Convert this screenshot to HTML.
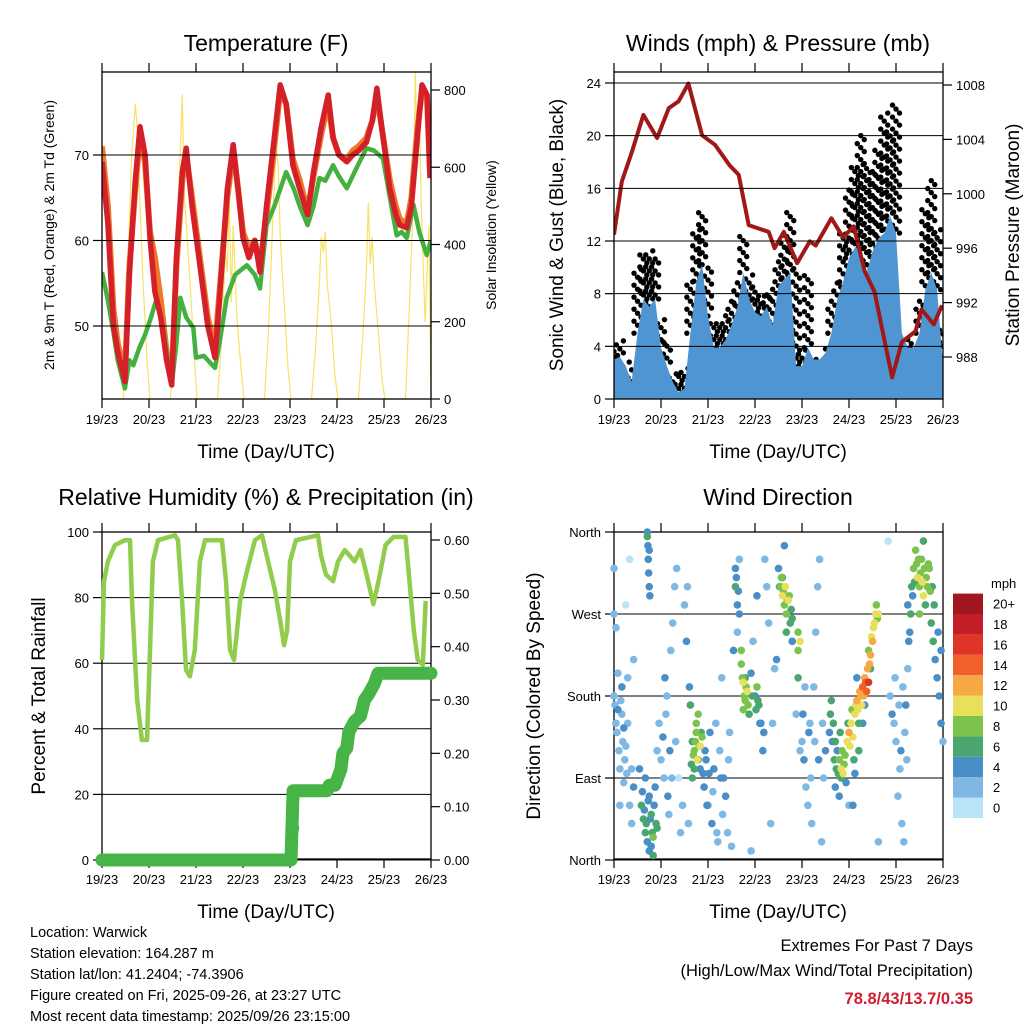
<!DOCTYPE html>
<html><head><meta charset="utf-8">
<style>
html,body{margin:0;padding:0;background:#fff;}
svg{display:block;font-family:"Liberation Sans",Arial,sans-serif;}
</style></head>
<body>
<svg id="fig" width="1024" height="1024" viewBox="0 0 1024 1024" xmlns="http://www.w3.org/2000/svg">
<text x="266" y="51" font-size="23" text-anchor="middle">Temperature (F)</text>
<text x="778" y="51" font-size="23" text-anchor="middle">Winds (mph) &amp; Pressure (mb)</text>
<text x="266" y="505" font-size="23" text-anchor="middle">Relative Humidity (%) &amp; Precipitation (in)</text>
<text x="778" y="505" font-size="23" text-anchor="middle">Wind Direction</text>
<text x="266" y="458" font-size="19" text-anchor="middle">Time (Day/UTC)</text>
<text x="778" y="458" font-size="19" text-anchor="middle">Time (Day/UTC)</text>
<text x="266" y="918" font-size="19" text-anchor="middle">Time (Day/UTC)</text>
<text x="778" y="918" font-size="19" text-anchor="middle">Time (Day/UTC)</text>
<text transform="translate(54,235) rotate(-90)" font-size="14" text-anchor="middle">2m &amp; 9m T (Red, Orange) &amp; 2m Td (Green)</text>
<text transform="translate(496,235) rotate(-90)" font-size="14" text-anchor="middle">Solar Insolation (Yellow)</text>
<text transform="translate(563,235) rotate(-90)" font-size="19" text-anchor="middle">Sonic Wind &amp; Gust (Blue, Black)</text>
<text transform="translate(1019,235) rotate(-90)" font-size="19" text-anchor="middle">Station Pressure (Maroon)</text>
<text transform="translate(45,696) rotate(-90)" font-size="19" text-anchor="middle">Percent &amp; Total Rainfall</text>
<text transform="translate(540,696) rotate(-90)" font-size="19" text-anchor="middle">Direction (Colored By Speed)</text>
<g font-size="14.5">
<text x="30" y="937">Location: Warwick</text>
<text x="30" y="958">Station elevation: 164.287 m</text>
<text x="30" y="979">Station lat/lon: 41.2404; -74.3906</text>
<text x="30" y="1000">Figure created on Fri, 2025-09-26, at 23:27 UTC</text>
<text x="30" y="1021">Most recent data timestamp: 2025/09/26 23:15:00</text>
</g>
<g font-size="16.5" text-anchor="end">
<text x="973" y="951">Extremes For Past 7 Days</text>
<text x="973" y="976">(High/Low/Max Wind/Total Precipitation)</text>
<text x="973" y="1004" fill="#d02030" font-weight="bold">78.8/43/13.7/0.35</text>
</g>
</svg>
<script>
// ---------- DATA ----------
const dayLabels = ["19/23","20/23","21/23","22/23","23/23","24/23","25/23","26/23"];
const tempHours = [0,3,5.8,8,11.7,14,17,19.4,22,24.5,27,30,33,35.6,38,41,43,46,50,54,57.7,60,64,67,69.5,72,75,78,80.7,84,88,91,94,97.5,101,105,108,112,115.5,118,121,125,128,131,135,138,140.4,143,147,150,152,155.6,158,161,163.4,166,167.5];
const tempValues = [69.2,62,50.1,47,43.5,56,67,73.3,70,60.3,54,51,46,43.1,58,68,70.8,64,57.1,50,46.3,53,66,71.2,66,60.3,58,60,56.3,64,72,78.2,76,68.8,66,63,68,73.3,77,72,70,69.2,70,70.5,71.5,74,77.8,73,66,63,61.8,61.5,64,72,78.2,77,67.3];
const orangeValues = [71,64,52,48,44.5,57,66,72.5,69,61,58,53,47,44,57,67,70,65,58,51,47.5,54,65,70.5,66,61,59,60,57,63,71,77.5,76,69.5,67,63.5,67.5,72.5,76,72,70,69.5,70.5,71,72,74,77,73,67,64,62.5,62,65,73,77.5,76.5,68];
const dewHours = [0,3,5.8,8,11.7,14,16,19,22,25,28,31,35.6,38,40,43,46.6,48,52,57.7,60,63.7,68,74,78,80.7,84,88,94,98,101,105,108,111,114,118,121,125,130,135,139,143.5,147,150.5,153,155.6,159,162,165.8,168];
const dewValues = [56.3,53,49.3,46,42.7,46,45.4,47.4,49,51,53.3,50,43.1,48,53.3,51,49.8,46.3,46.5,45.1,48,53.3,56,57.1,56,54.4,61.8,64,68,66,64,61.8,64,67.3,67,68.8,67.5,66.1,68.5,70.8,70.5,69.6,65,60.6,61,60.3,64.2,61,58.3,60];
const solarHours = [0,11,13,15,17,18,19,21,23,24.5,35,37,39,40,41,42,43,45,47,48.5,59,61,63,64,65,66,67,69,71,72.5,83,85,87,88,89,90,91,93,95,96.5,107,109,111,112,113,114,115,117,119,120.5,131,133,135,136,137,138,139,141,143,144.5,155,157,159,160,161,162,163,165,167,168];
const solarValues = [0,0,300,620,764,700,560,300,100,0,0,200,520,640,789,520,460,300,120,0,0,150,380,330,530,250,450,200,80,0,0,180,440,560,652,600,420,250,80,0,0,130,300,420,380,434,300,200,60,0,0,150,330,509,350,420,300,180,50,0,0,250,520,850,600,760,500,200,450,0];
const windHours = [0,3,6,9,12,15,18,21,24,27,30,33,36,39,42,45,48,51,54,57,60,63,66,69,72,75,78,81,84,87,90,93,96,99,102,105,108,111,114,117,120,123,126,129,132,135,138,141,144,147,150,153,156,159,162,165,168];
const windValues = [3.0,3.2,2.5,1.3,5.0,7.6,7.0,7.6,3.9,2.5,1.3,0.5,0.8,5.0,8.9,10.2,6.3,3.9,3.9,4.5,5.6,7.0,9.6,7.6,6.6,6.3,7.0,5.6,8.6,9.1,9.6,2.5,2.5,3.9,3.0,3.0,3.5,5.0,7.6,8.9,10.7,11.5,11.5,9.6,11.2,12.2,12.6,13.9,12.6,5.0,3.9,3.9,5.0,8.3,9.6,8.3,2.5];
const gustValues = [3.9,4.5,3.0,2.5,10.0,11.0,11.5,10.7,6.3,4.5,2.0,2.0,2.5,9.0,13.0,14.2,10.0,6.0,5.8,6.6,7.6,8.9,12.6,9.6,8.6,8.1,8.1,8.6,10.7,12.6,14.4,10.0,3.9,9.6,3.2,3.0,3.9,7.6,8.9,12.6,15.9,17.8,20.0,17.8,17.3,19.0,22.0,20.4,22.6,5.0,4.5,3.9,7.6,14.4,16.8,13.0,5.6];
const presHours = [0,4,9.2,15,22,28,33,38,45,51.6,59,63.7,68.8,79,82,86.7,93.5,100,103,111,117,122.4,128,133,142,147,154,157,163.3,167.5];
const presValues = [997,1000.9,1003.1,1005.8,1004.1,1006.3,1006.8,1008.1,1004.3,1003.6,1002.1,1001.4,997.7,997.2,996,997.2,994.9,996.5,996.2,998.2,996.8,997.6,994.3,992.8,986.5,989.1,989.9,991.5,990.4,991.8];
const rhHours = [0,1,3,6.6,11.7,14.3,15.3,17.9,20.4,23,24.5,26,28.6,37.3,38.8,40.9,42.9,44.9,47.4,50,52.6,61.3,63.3,65.4,67.4,70.5,74,78.1,81.7,84.8,88.4,91,93,94.5,96,99,110.3,111.8,114.4,118,120.5,124,129,132,135.1,138.6,141.2,144.8,148.9,155,157,159.2,161.2,163.8,165.3];
const rhValues = [61,85,91,96,97.5,97.5,79,49,36.6,36.6,64,91,97.5,99,97.5,79,58,56,64,91,97.5,97.5,85,64,61,79,88,97.5,99,91,82,73,65.5,70,91,97.5,99,93,87,85,91,94.5,91,94.5,87,78,85,96,98.5,98.5,85,70,61,59.5,79];
const precipHours = [0,96.5,97.4,97.6,115,116,119,122,123,125,126,129,132,134,136,139,141,144,168];
const precipValues = [0,0,0.06,0.13,0.13,0.14,0.14,0.17,0.20,0.21,0.24,0.26,0.27,0.30,0.31,0.33,0.35,0.35,0.35];
// wind direction observations: [hour, degrees, speed mph]
const dirObs = [
 [0,180,2],[0.5,170,1],[1,150,2],[1.5,140,1],[2,165,3],[2.5,120,2],[3,100,1],[3.5,175,2],[4,160,1],[4.5,130,2],[5,145,3],[5.5,110,2],[6,125,1],[6.5,95,2],[7,150,1],[0,270,2],[1,255,1],[0,320,1],[6,280,0],[8,330,0],[3,60,1],[9,40,1],[10,80,3],[10,220,1],[7,200,1],[2,205,2],[4,190,3],[5,85,1],[8,60,2],[9,100,1],
 [13,100,4],[14,60,6],[14.5,75,4],[15,45,5],[15.5,55,4],[16,30,6],[16.5,40,5],[17,20,4],[17.5,65,3],[18,70,4],[18.5,45,4],[19,50,6],[19.5,30,5],[20,25,7],[20.5,60,4],[21,80,3],[21.5,40,5],[22,35,5],[16,90,3],[18,10,4],[20,5,5],[19,15,3],
 [17,355,5],[17.3,345,4],[17.5,330,4],[17.7,315,4],[18,300,3],[18.3,290,4],[17,360,3],[18,340,4],
 [22,120,2],[23,150,1],[24,110,2],[25,135,3],[25.5,90,2],[26,200,3],[26.5,160,2],[27,180,1],[27.5,70,3],[28,50,1],[28.5,120,3],[29,230,2],[29.5,90,2],[30,260,1],[31,300,1],[31.5,130,2],[32,320,2],[33,90,0],[34,30,1],[35,60,2],[36,280,2],[37,240,3],[37.5,300,2],[38,40,1],[38.5,190,3],
 [39,170,6],[39.5,105,5],[40,130,6],[40,90,5],[40.5,115,7],[41,120,7],[41,100,5],[41.5,130,8],[42,140,8],[42,150,7],[42.5,110,9],[43,110,6],[43,160,8],[43.5,125,7],[44,125,9],[44,100,4],[44.5,140,6],[45,135,7],[45.5,95,4],
 [46,80,3],[46.5,120,4],[47,110,3],[47.5,60,3],[48,60,2],[48.5,95,3],[49,140,3],[50,40,3],[50.5,75,2],[51,100,3],[52,150,2],[52.5,30,2],[53,20,1],[54,120,2],[54.5,90,3],[55,200,2],[55.5,50,2],[56,90,3],[57,70,3],[58,30,2],[58.5,110,2],[59,140,1],[60,15,2],
 [61,230,3],[62,300,5],[62.5,310,4],[63,280,4],[63,250,2],[63.5,295,4],[64,270,4],[62,320,3],[64,330,2],
 [65,215,8],[65,230,7],[65.5,200,7],[66,195,9],[66,165,8],[66.5,180,8],[67,175,7],[67,200,6],[67.5,190,7],[68,185,10],[68.5,170,7],[69,160,5],[70,205,4],[70.5,180,5],[71,240,2],[72,180,4],[72.5,165,5],[73,190,7],[73,290,3],[73.5,175,6],[74,170,5],[74.5,150,4],[75,150,4],[76,120,4],[76.5,140,3],[77,330,2],[78,300,1],[79,260,1],[70,10,1],[80,40,1],[81,150,2],[82,210,1],
 [83,220,3],[84,320,4],[84.5,300,5],[85,300,8],[85.5,310,7],[86,290,9],[86,310,6],[86.5,295,8],[87,280,8],[87,345,3],[87.5,300,9],[88,270,7],[88,250,5],[88.5,285,8],[89,285,9],[89.5,290,7],[90,260,6],[90.5,275,6],[91,240,4],[91,265,5],
 [93,160,2],[94,250,8],[94,230,7],[95,240,9],[94,200,6],[95,120,2],[96,130,2],[96.5,160,3],[97,110,3],[97.5,190,2],[98,80,2],[99,60,1],[99.5,140,3],[100,150,2],[100.5,90,2],[101,40,1],[102,190,1],[102.5,130,2],[103,250,1],[104,300,2],[104.5,110,3],[105,330,1],[106,20,1],[106.5,150,2],[107,90,2],[108,120,3],
 [110,140,4],[110.5,160,5],[111,175,6],[111.5,130,4],[112,150,6],[112.5,110,5],[113,130,5],[113,80,4],[113.5,100,6],[114,120,4],[114.5,95,5],[115,110,8],[115,70,4],[115.5,140,6],[116,100,9],[116,90,6],[116.5,120,7],[117,95,10],[117.5,105,8],[118,115,8],[118.5,85,4],[119,130,10],[119.5,150,6],[120,140,12],[120,60,1],[120.5,125,9],[121,150,10],[121.5,165,7],[122,135,9],[122,60,4],[122.5,110,6],[123,160,10],[123,95,4],[123.5,170,9],[124,175,12],[124,200,4],[124.5,165,9],[125,150,6],[125,120,5],[125.5,185,11],[126,180,12],[126.5,170,10],[127,190,13],[127,150,4],[127.5,180,11],[128,200,12],[128.5,195,13],[129,185,14],[129.5,210,11],[130,195,16],[130,230,8],[130.5,215,11],[131,225,12],[131.5,245,9],[132,240,12],[132.5,255,10],[133,260,10],[133.5,270,9],[134,280,8],[134.5,265,8],[135,270,10],[135,20,1],[128,170,4],[131,210,5],
 [140,350,0],[141,180,2],[142,160,3],[143,150,2],[143.5,200,2],[144,130,1],[145,70,1],[145.5,170,2],[146,100,2],[146.5,120,3],[147,40,1],[147.5,190,2],[148,20,1],[148.5,140,2],[149,170,3],[149.5,110,2],[150,210,2],[150,280,4],[150.5,240,4],[151,250,4],[151.5,270,5],[152,300,5],[152.5,290,4],[153,320,7],[153.5,305,6],[154,340,8],[154.5,325,7],[155,310,10],[155.5,330,8],[156,300,8],[156,270,7],[156.5,315,8],[157,330,7],[157.5,305,9],[158,290,9],[158,350,6],[158.5,320,8],[159,280,6],[159.5,310,7],[160,300,8],[160.5,325,8],[161,320,8],[161.5,295,7],[162,260,6],[162.5,300,6],[163,240,5],[163.5,280,5],[164,220,4],[165,200,3],[165.5,250,4],[166,180,4],[167,150,3],[168,130,2],[167,230,4]
];
const speedColors = ["#b9e3f8","#7fb9e3","#4a8ec8","#48a66e","#7cc34e","#e8e05a","#f6a844","#ef6128","#e03428","#c41e28","#a0181e"];
const speedLabels = ["0","2","4","6","8","10","12","14","16","18","20+"];

// ---------- RENDER ----------
const NS="http://www.w3.org/2000/svg";
const svg=document.getElementById('fig');
function el(tag,attrs,parent){const e=document.createElementNS(NS,tag);for(const k in attrs)e.setAttribute(k,attrs[k]);(parent||svg).appendChild(e);return e;}
const L=[102,614], T=[72,532], W=329, H=327;
function xs(px){return h=>px+h/168*W;}
function lin(d0,d1,r0,r1){return v=>r0+(v-d0)/(d1-d0)*(r1-r0);}
function poly(pts,attrs,parent){return el('polyline',Object.assign({points:pts.map(p=>p[0].toFixed(1)+','+p[1].toFixed(1)).join(' '),fill:'none'},attrs),parent);}

function frame(px,py,name){
  const g=el('g',{});
  
  
  el('rect',{x:px,y:py,width:W,height:H,fill:'none',stroke:'#000','stroke-width':1.3},g);
  for(let i=0;i<8;i++){
    const x=px+i*W/7;
    el('line',{x1:x,y1:py+H,x2:x,y2:py+H+9,stroke:'#000','stroke-width':1.2},g);
    el('line',{x1:x,y1:py,x2:x,y2:py-9,stroke:'#000','stroke-width':1.2},g);
    const t=el('text',{x:x,y:py+H+25,'font-size':13,'text-anchor':'middle'},g);
    t.textContent=dayLabels[i];
    
    
  }
  return g;
}
function yTicks(g,px,py,vals,scale,side,labels,grid){
  vals.forEach((v,i)=>{
    const y=scale(v);
    if(side==='left'){
      el('line',{x1:px-9,y1:y,x2:px,y2:y,stroke:'#000','stroke-width':1.2},g);
      const t=el('text',{x:px-13,y:y+5,'font-size':13,'text-anchor':'end'},g);t.textContent=labels[i];
      
      
      if(grid) el('line',{x1:px,y1:y,x2:px+W,y2:y,stroke:'#000','stroke-width':1},g);
    } else {
      el('line',{x1:px+W,y1:y,x2:px+W+9,y2:y,stroke:'#000','stroke-width':1.2},g);
      const t=el('text',{x:px+W+13,y:y+5,'font-size':13,'text-anchor':'start'},g);t.textContent=labels[i];
      
      
    }
  });
}

// Panel 1: temperature
(function(){
  const X=xs(L[0]), Y=lin(50,70,326,155), YS=lin(0,800,399,90);
  const g=frame(L[0],T[0],'temperature');
  const clip=el('clipPath',{id:'c1'});el('rect',{x:L[0],y:T[0],width:W,height:H},clip);
  const d=el('g',{'clip-path':'url(#c1)'});
  
  
  const s=poly(solarHours.map((h,i)=>[X(h),YS(solarValues[i])]),{stroke:'#f7dc4a','stroke-width':1.2,'stroke-opacity':0.85},d);
  
  const o=poly(tempHours.map((h,i)=>[X(h),Y(orangeValues[i])]),{stroke:'#f07828','stroke-width':6,'stroke-linejoin':'round'},d);
  
  const gr=poly(dewHours.map((h,i)=>[X(h),Y(dewValues[i])]),{stroke:'#44b040','stroke-width':4.5,'stroke-linejoin':'round'},d);
  
  const r=poly(tempHours.map((h,i)=>[X(h),Y(tempValues[i])]),{stroke:'#d42028','stroke-width':5.5,'stroke-linejoin':'round'},d);
  
  yTicks(g,L[0],T[0],[50,60,70],Y,'left',['50','60','70'],true);
  yTicks(g,L[0],T[0],[0,200,400,600,800],YS,'right',['0','200','400','600','800']);
  svg.appendChild(g);
})();

// Panel 2: winds
(function(){
  const X=xs(L[1]), Y=lin(0,24,399,83), YP=lin(988,1008,357,85);
  const g=frame(L[1],T[0],'winds');
  const clip=el('clipPath',{id:'c2'});el('rect',{x:L[1],y:T[0],width:W,height:H},clip);
  const d=el('g',{'clip-path':'url(#c2)'});
  
  
  windHours.forEach((h,i)=>{
    const lo=Y(windValues[i]), hi=Y(gustValues[i]);
    for(let y=lo;y>=hi-0.1;y-=4){
      const c=el('circle',{cx:X(h)+((Math.round(y)%3)-1)*3.5,cy:y,r:2.7,fill:'#000'},d);
      
      
    }
  });
  const pts=[[X(windHours[0]),Y(0)]];
  windHours.forEach((h,i)=>{pts.push([X(h),Y(windValues[i])]);});
  pts.push([X(168),Y(0)]);
  const a=el('polygon',{points:pts.map(p=>p[0].toFixed(1)+','+p[1].toFixed(1)).join(' '),fill:'#4f95d2'},d);
  
  yTicks(g,L[1],T[0],[0,4,8,12,16,20,24],Y,'left',['0','4','8','12','16','20','24'],true);
  yTicks(g,L[1],T[0],[988,992,996,1000,1004,1008],YP,'right',['988','992','996','1000','1004','1008']);
  const p=poly(presHours.map((h,i)=>[X(h),YP(presValues[i])]),{stroke:'#a01818','stroke-width':4,'stroke-linejoin':'round'},d);
  
  svg.appendChild(g);
})();

// Panel 3: RH & precip
(function(){
  const X=xs(L[0]), Y=lin(0,100,860,532), YR=lin(0,0.6,860,540);
  const g=frame(L[0],T[1],'humidity');
  yTicks(g,L[0],T[1],[0,20,40,60,80,100],Y,'left',['0','20','40','60','80','100'],true);
  yTicks(g,L[0],T[1],[0,0.1,0.2,0.3,0.4,0.5,0.6],YR,'right',['0.00','0.10','0.20','0.30','0.40','0.50','0.60']);
  const rh=poly(rhHours.map((h,i)=>[X(h),Y(rhValues[i])]),{stroke:'#92cc4c','stroke-width':4.5,'stroke-linejoin':'round'},g);
  
  const pr=poly(precipHours.map((h,i)=>[X(h),YR(precipValues[i])]).filter((p,i)=>i!==2),{stroke:'#46b446','stroke-width':13,'stroke-linecap':'round','stroke-linejoin':'round'},g);
  
  const c=el('circle',{cx:X(precipHours[2]),cy:YR(precipValues[2]),r:6.5,fill:'#46b446'},g);
  
  svg.appendChild(g);
})();

// Panel 4: wind direction
(function(){
  const X=xs(L[1]), Y=lin(0,360,860,532);
  const g=frame(L[1],T[1],'direction');
  yTicks(g,L[1],T[1],[0,90,180,270,360],Y,'left',['North','East','South','West','North'],true);
  const d=el('g',{},g);
  
  
  dirObs.slice().sort((a,b)=>a[2]-b[2]).forEach(o=>{
    const ci=Math.min(10,Math.round(o[2]/2));
    const c=el('circle',{cx:X(o[0]),cy:Y(o[1]),r:3.8,fill:speedColors[ci]},d);
    
    
  });
  const lg=el('g',{});
  
  
  const t0=el('text',{x:991,y:588,'font-size':13},lg);t0.textContent='mph';
  speedColors.forEach((c,i)=>{
    const y=818-(i+1)*20.4;
    const r=el('rect',{x:953,y:y,width:30,height:20.4,fill:c},lg);
    
    
    const t=el('text',{x:993,y:y+15,'font-size':13},lg);t.textContent=speedLabels[i];
  });
  svg.appendChild(g);
})();
</script>
</body></html>
